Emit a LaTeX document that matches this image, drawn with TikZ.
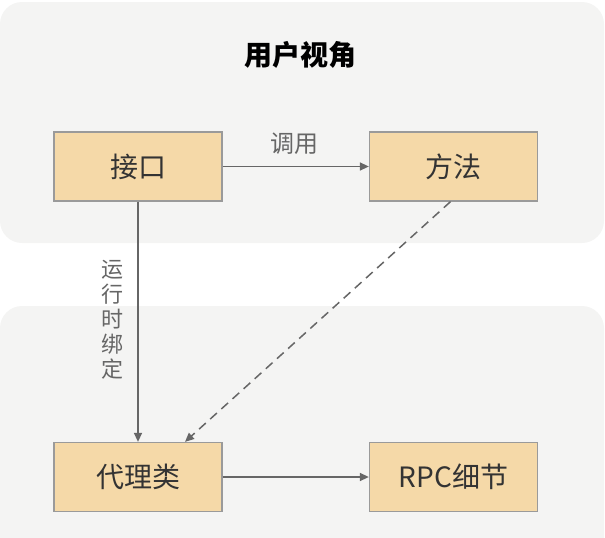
\documentclass[tikz,border=0pt]{standalone}
\usepackage{fontspec}
\setmainfont{Noto Sans CJK SC}
\usetikzlibrary{arrows.meta}
\definecolor{panelbg}{HTML}{F4F4F3}
\definecolor{boxfill}{HTML}{F5D9A8}
\definecolor{boxline}{HTML}{9A9A9A}
\definecolor{linecol}{HTML}{666666}
\definecolor{textcol}{HTML}{333333}
\tikzset{
  panel/.style={fill=panelbg, draw=none, rounded corners=22pt},
  box/.style={draw=boxline, line width=1.3pt, fill=boxfill, minimum width=168pt, minimum height=69pt, inner sep=0pt, text=textcol, font=\fontsize{28}{32}\selectfont},
  conn/.style={draw=linecol, line width=1.5pt, -{Triangle[length=9pt,width=8pt]}},
  lbl/.style={text=linecol, font=\fontsize{24}{28}\selectfont},
  vlbl/.style={text=linecol, font=\fontsize{22}{25}\selectfont, align=center, inner sep=0pt},
}
\begin{document}
\begin{tikzpicture}[x=1pt,y=-1pt]
\useasboundingbox (0,0) rectangle (605,538);
\begin{scope}
\clip (0,0) rectangle (605,538);
\path[panel] (0,2) rectangle (604,243);
\path[panel] (0,306) rectangle (604,570);
\end{scope}
\node[font=\bfseries\fontsize{28}{32}\selectfont, text=black] (title) at (300.5,55) {用户视角};
\node[box] (jk) at (138,166.5) {接口};
\node[box] (ff) at (453.5,166.5) {方法};
\node[box] (dl) at (138,477) {代理类};
\node[box] (rpc) at (453.5,477) {RPC细节};
\draw[conn] (jk.east) -- (ff.west);
\node[lbl] (dy) at (294,144) {调用};
\draw[conn] (jk.south) -- (dl.north);
\node[vlbl] (yx) at (112.5,319.5) {运\\行\\时\\绑\\定};
\draw[conn, dashed, dash pattern=on 9pt off 6pt] ([xshift=-3pt]ff.south) -- ([xshift=47pt]dl.north);
\draw[conn] (dl.east) -- (rpc.west);
\end{tikzpicture}
\end{document}
